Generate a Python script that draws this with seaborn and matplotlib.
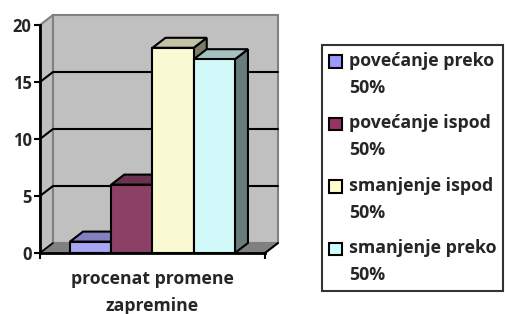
import numpy as np
import pandas as pd
import matplotlib
matplotlib.use("Agg")
import matplotlib.pyplot as plt
from matplotlib.patches import Polygon, Patch, Rectangle
from matplotlib.legend_handler import HandlerPatch
import seaborn as sns

# data
grupa = "procenat promene zapremine"
serije = ["povećanje preko 50%", "povećanje ispod 50%", "smanjenje ispod 50%", "smanjenje preko 50%"]
vrednosti = [1, 6, 18, 17]
boje = ["#9999FF", "#993366", "#FFFFCC", "#CCFFFF"]
y_ticks = [0, 5, 10, 15, 20]

sns.set_style("white")
plt.rcParams["font.family"] = ["Open Sans", "DejaVu Sans"]
plt.rcParams["font.weight"] = "bold"

df = pd.DataFrame({"grupa": [grupa] * len(serije), "serija": serije, "vrednost": vrednosti})

fig = plt.figure(figsize=(5.06, 3.14), dpi=100)
ax = fig.add_axes([40 / 506, 61 / 314, 225 / 506, 228 / 314])
ax.set_facecolor("none")

sns.barplot(data=df, x="grupa", y="vrednost", hue="serija", hue_order=serije,
            palette=boje, width=0.733, edgecolor="black", linewidth=1.5,
            legend=False, ax=ax)
stubici = sorted(list(ax.patches), key=lambda p: p.get_x())

ax.set_xlim(-0.5, 0.5)
ax.set_ylim(0, 20)

# depth offset of the 3D look (pixels -> data)
dx = 13 / 225 * 1.0
dy = 10 / 228 * 20
x0, x1 = -0.5, 0.5
ytop = y_ticks[-1]

# walls and floor
ax.add_patch(Polygon([(x0, 0), (x0 + dx, dy), (x0 + dx, ytop + dy), (x0, ytop)],
                     closed=True, fc="#C0C0C0", ec="#808080", lw=1.5, zorder=0, clip_on=False))
ax.add_patch(Polygon([(x0 + dx, dy), (x1 + dx, dy), (x1 + dx, ytop + dy), (x0 + dx, ytop + dy)],
                     closed=True, fc="#C0C0C0", ec="#808080", lw=1.5, zorder=0, clip_on=False))
ax.add_patch(Polygon([(x0, 0), (x1, 0), (x1 + dx, dy), (x0 + dx, dy)],
                     closed=True, fc="#808080", ec="#808080", lw=1, zorder=0.5, clip_on=False))
ax.plot([x1, x1 + dx], [0, dy], color="black", lw=1.5, zorder=0.6, clip_on=False)
ax.plot([x0, x0 + dx], [0, dy], color="black", lw=1.2, zorder=0.6, clip_on=False)

# gridlines on the walls
for v in y_ticks[1:-1]:
    ax.plot([x0, x0 + dx, x1 + dx], [v, v + dy, v + dy], color="black", lw=1.5,
            zorder=1, clip_on=False)


def shade(c, f):
    r, g, b = matplotlib.colors.to_rgb(c)
    return (r * f, g * f, b * f)


# 3D sides and tops of the bars
for i, p in enumerate(stubici):
    bx, by = p.get_x(), p.get_y()
    w, h = p.get_width(), p.get_height()
    c = p.get_facecolor()
    p.set_zorder(4 + 2 * i)
    side = Polygon([(bx + w, by), (bx + w + dx, by + dy), (bx + w + dx, h + dy), (bx + w, h)],
                   closed=True, fc=shade(c, 0.5), ec="black", lw=1.5, zorder=3 + 2 * i, clip_on=False)
    top = Polygon([(bx, h), (bx + dx, h + dy), (bx + w + dx, h + dy), (bx + w, h)],
                  closed=True, fc=shade(c, 0.78), ec="black", lw=1.5, zorder=3 + 2 * i, clip_on=False)
    ax.add_patch(side)
    ax.add_patch(top)

# axes
sns.despine(ax=ax, top=True, right=True)
for s in ["left", "bottom"]:
    ax.spines[s].set_color("black")
    ax.spines[s].set_linewidth(2)
    ax.spines[s].set_zorder(20)
ax.set_yticks(y_ticks)
ax.set_yticklabels([str(t) for t in y_ticks], fontsize=12, fontweight="bold")
ax.set_xticks([x0, x1])
ax.set_xticklabels(["", ""])
ax.tick_params(axis="both", direction="out", length=4, width=1.5, color="black", left=True, bottom=True, pad=2)
ax.set_ylabel("")
ax.set_xlabel("procenat promene\nzapremine", fontsize=12.7, fontweight="bold", labelpad=6.5,
              linespacing=1.6)

# legend: square next to the first line of each two-line label
leg_size = 12.8
leg_ls = 1.63


def kvadrat(legend, orig_handle, xdescent, ydescent, width, height, fontsize):
    pomak = 0.5 * leg_ls * fontsize * 0.93
    return Rectangle((-xdescent, -ydescent + pomak), width, height)


ruke = [Patch(facecolor=c, edgecolor="black", linewidth=1.5) for c in boje]
oznake = [s.rsplit(" ", 1)[0] + "\n" + s.rsplit(" ", 1)[1] for s in serije]
leg = fig.legend(ruke, oznake, loc="center left", bbox_to_anchor=(322 / 506, 1 - 168 / 314),
                 frameon=True, fancybox=False, shadow=False, prop={"size": leg_size, "weight": "bold"},
                 handlelength=0.7, handleheight=0.7, handletextpad=0.4, labelspacing=1.0,
                 borderpad=0.4, borderaxespad=0,
                 handler_map={Patch: HandlerPatch(patch_func=kvadrat)})
leg.get_frame().set_edgecolor("black")
leg.get_frame().set_linewidth(1.5)
for t in leg.get_texts():
    t.set_linespacing(leg_ls)

fig.savefig("out.png", dpi=100)
